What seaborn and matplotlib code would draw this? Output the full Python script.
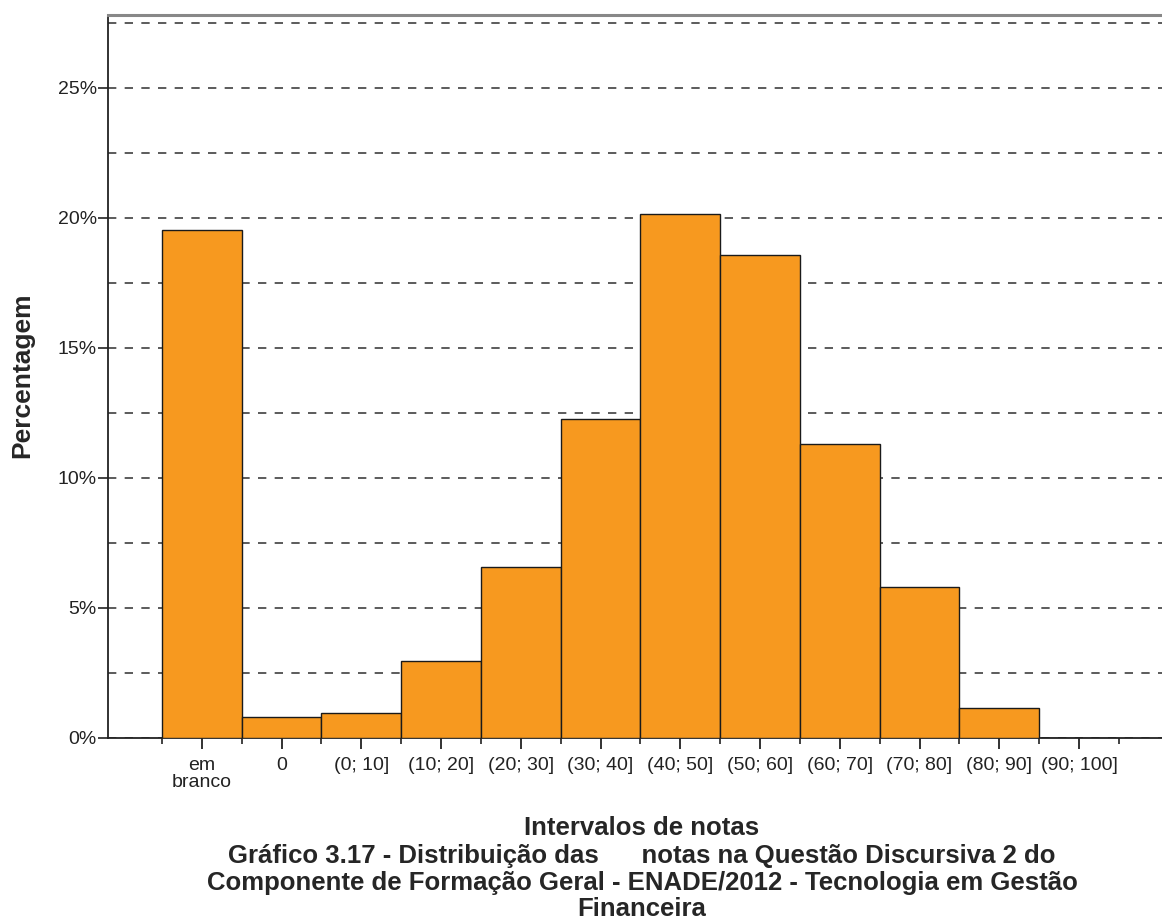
import matplotlib
matplotlib.use("Agg")
import matplotlib.pyplot as plt
import numpy as np
import pandas as pd
import seaborn as sns
from matplotlib.ticker import FuncFormatter, MultipleLocator, FixedLocator

# data
categorias = ["em\nbranco", "0", "(0; 10]", "(10; 20]", "(20; 30]", "(30; 40]",
              "(40; 50]", "(50; 60]", "(60; 70]", "(70; 80]", "(80; 90]", "(90; 100]"]
percentuais = [19.54, 0.80, 0.97, 2.96, 6.58, 12.26,
               20.14, 18.58, 11.31, 5.81, 1.15, 0.0]

titulo_x = "Intervalos de notas"
legenda = ["Gráfico 3.17 - Distribuição das      notas na Questão Discursiva 2 do",
           "Componente de Formação Geral - ENADE/2012 - Tecnologia em Gestão",
           "Financeira"]

df = pd.DataFrame({"intervalo": categorias, "pct": percentuais})

sns.set_style("white", {"xtick.bottom": True, "ytick.left": True})
plt.rcParams["font.family"] = ["Liberation Sans", "DejaVu Sans"]

fig = plt.figure(figsize=(11.62, 9.22), dpi=100)
ax = fig.add_axes([0.093, 0.1996, 0.907, 0.7841])

sns.barplot(data=df, x="intervalo", y="pct", color="#F7991F", saturation=1,
            width=1.0, edgecolor="#1a1a1a", linewidth=1.0, ax=ax, zorder=3)

ax.set_xlim(-1.175, 12.04)
ax.set_ylim(0, 27.8)

# dashed grid every 2.5%
ax.yaxis.set_major_locator(MultipleLocator(5))
ax.yaxis.set_minor_locator(MultipleLocator(2.5))
ax.yaxis.set_major_formatter(FuncFormatter(lambda v, p: f"{v:.0f}%"))
ax.grid(True, which="both", axis="y", linestyle=(0, (5, 5)), color="#404040",
        linewidth=1.2, zorder=0)
ax.set_axisbelow(True)

ax.xaxis.set_minor_locator(FixedLocator(np.arange(-0.5, len(categorias), 1.0)))
ax.tick_params(axis="x", which="major", bottom=True, length=8, width=1.3,
               color="#222222", labelsize=14, pad=6, labelcolor="#222222")
ax.tick_params(axis="x", which="minor", bottom=True, length=4, width=1.2,
               color="#222222")
ax.tick_params(axis="y", which="major", left=True, length=7, width=1.2,
               color="#222222", labelsize=14, pad=1, labelcolor="#222222")
ax.tick_params(axis="y", which="minor", left=False, length=0)
for lbl in ax.get_xticklabels():
    lbl.set_linespacing(1.0)

for s in ["left", "bottom"]:
    ax.spines[s].set_color("#222222")
    ax.spines[s].set_linewidth(1.3)
ax.spines["top"].set_color("#888888")
ax.spines["top"].set_linewidth(2.2)
ax.spines["right"].set_visible(False)

ax.set_xlabel("")
ax.set_ylabel("")
fig.text(0.019, 0.593, "Percentagem", rotation=90, ha="center", va="center",
         fontsize=19, fontweight="bold")

fig.text(0.5525, 1 - 828 / 922, titulo_x, ha="center", va="center",
         fontsize=18.5, fontweight="bold")
for i, linha in enumerate(legenda):
    fig.text(0.5525, 1 - (856 + 26.5 * i) / 922, linha, ha="center", va="center",
             fontsize=18.5, fontweight="bold")

fig.savefig("out.png", dpi=100)
